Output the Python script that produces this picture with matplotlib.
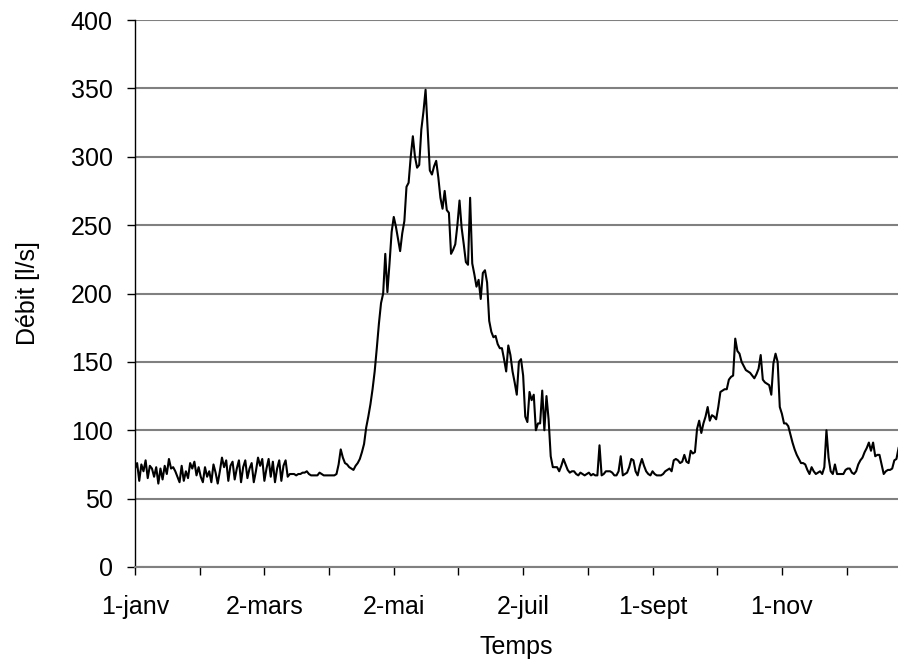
import matplotlib
matplotlib.use("Agg")
import matplotlib.pyplot as plt

plt.rcParams['font.family'] = ['Liberation Sans', 'DejaVu Sans']

# Daily discharge [l/s], day 0 = 1 January (leap year)
debit_jan_apr = [72, 76, 63, 75, 70, 78, 65, 74, 72, 66, 73, 61, 72, 64, 74, 68, 79, 72, 73, 70,
                 66, 62, 74, 63, 70, 65, 76, 72, 77, 67, 73, 66, 62, 73, 66, 70, 62, 75, 69, 61,
                 70, 80, 73, 78, 63, 74, 77, 64, 72, 78, 62, 73, 78, 65, 72, 76, 62, 70, 80, 74,
                 79, 63, 72, 79, 66, 77, 62, 72, 78, 63, 74, 78, 66, 68, 68, 68, 67, 68, 68, 69,
                 69, 70, 68, 67, 67, 67, 67, 69, 68, 67, 67, 67, 67, 67, 67, 68, 75, 86, 80, 76]
debit_apr_jul = [75, 73, 72, 71, 74, 76, 79, 84, 90, 102, 110, 119, 130, 143, 160, 178, 193, 200, 229, 201,
                 222, 245, 256, 249, 240, 231, 244, 253, 278, 281, 300, 315, 300, 292, 294, 320, 333, 349, 320, 290,
                 287, 293, 297, 285, 270, 262, 275, 261, 259, 229, 232, 236, 250, 268, 248, 236, 223, 221, 270, 222,
                 214, 205, 210, 196, 215, 217, 208, 180, 172, 168, 169, 163, 160, 160, 152, 143, 162, 155, 143, 135,
                 126, 150, 152, 140, 110, 106, 128, 122, 126, 100, 105, 105, 129, 100, 125, 108, 81, 73, 73, 73]
debit_jul_oct = [70, 74, 79, 75, 71, 69, 70, 70, 68, 67, 69, 68, 67, 68, 69, 67, 68, 67, 67, 89,
                 67, 68, 70, 70, 70, 69, 67, 67, 70, 81, 67, 68, 69, 73, 79, 78, 70, 67, 74, 79,
                 74, 70, 68, 67, 70, 68, 67, 67, 67, 68, 70, 71, 72, 70, 78, 79, 78, 76, 77, 82,
                 77, 76, 85, 83, 84, 101, 107, 98, 105, 110, 117, 107, 111, 110, 108, 117, 128, 129, 130, 130,
                 137, 139, 140, 167, 158, 156, 150, 147, 144, 143, 142, 140, 138, 141, 145, 155, 137, 135, 134, 133]
debit_oct_dec = [126, 149, 156, 150, 117, 112, 105, 105, 103, 97, 91, 86, 82, 79, 76, 76, 75, 71, 68, 73,
                 70, 68, 69, 70, 68, 73, 100, 80, 70, 68, 75, 68, 68, 68, 68, 71, 72, 72, 69, 68,
                 70, 75, 78, 80, 84, 87, 91, 85, 91, 81, 82, 82, 75, 68, 70, 71, 71, 72, 78, 79,
                 87]
debit = debit_jan_apr + debit_apr_jul + debit_jul_oct + debit_oct_dec
jours = list(range(len(debit)))

tick_labels = ['1-janv', '2-mars', '2-mai', '2-juil', '1-sept', '1-nov']
tick_days = [0, 61, 122, 183, 244, 305]
minor_days = [30.5, 91.5, 152.5, 213.5, 274.5, 335.5]

fig = plt.figure(figsize=(8.98, 6.64), dpi=100)
W, H = 898, 664
x0, x1 = 135, 898
y0, y1 = 567, 20
ax = fig.add_axes([x0 / W, (H - y0) / H, (x1 - x0) / W, (y0 - y1) / H])

ax.plot(jours, debit, color='black', lw=1.5, zorder=3)

ax.set_xlim(0, (x1 - x0) / 2.121)
ax.set_ylim(0, 400)
ax.set_yticks(range(0, 401, 50))
ax.set_xticks(tick_days)
ax.set_xticklabels(tick_labels)
ax.set_xticks(minor_days, minor=True)

ax.yaxis.grid(True, color='#808080', lw=1.5)
ax.set_axisbelow(True)

for s in ['top', 'right']:
    ax.spines[s].set_visible(False)
ax.spines['left'].set_color('black')
ax.spines['bottom'].set_color('#808080')
ax.spines['left'].set_linewidth(1.0)
ax.spines['bottom'].set_linewidth(1.5)

ax.tick_params(axis='y', direction='out', length=6, width=1, color='black', pad=10, labelsize=18)
ax.tick_params(axis='x', which='both', direction='out', length=6, width=1, color='black', pad=14, labelsize=18)

ax.set_xlabel('Temps', fontsize=18, labelpad=12)
ax.set_ylabel('Débit [l/s]', fontsize=18, labelpad=22)

fig.savefig('out.png', dpi=100)
